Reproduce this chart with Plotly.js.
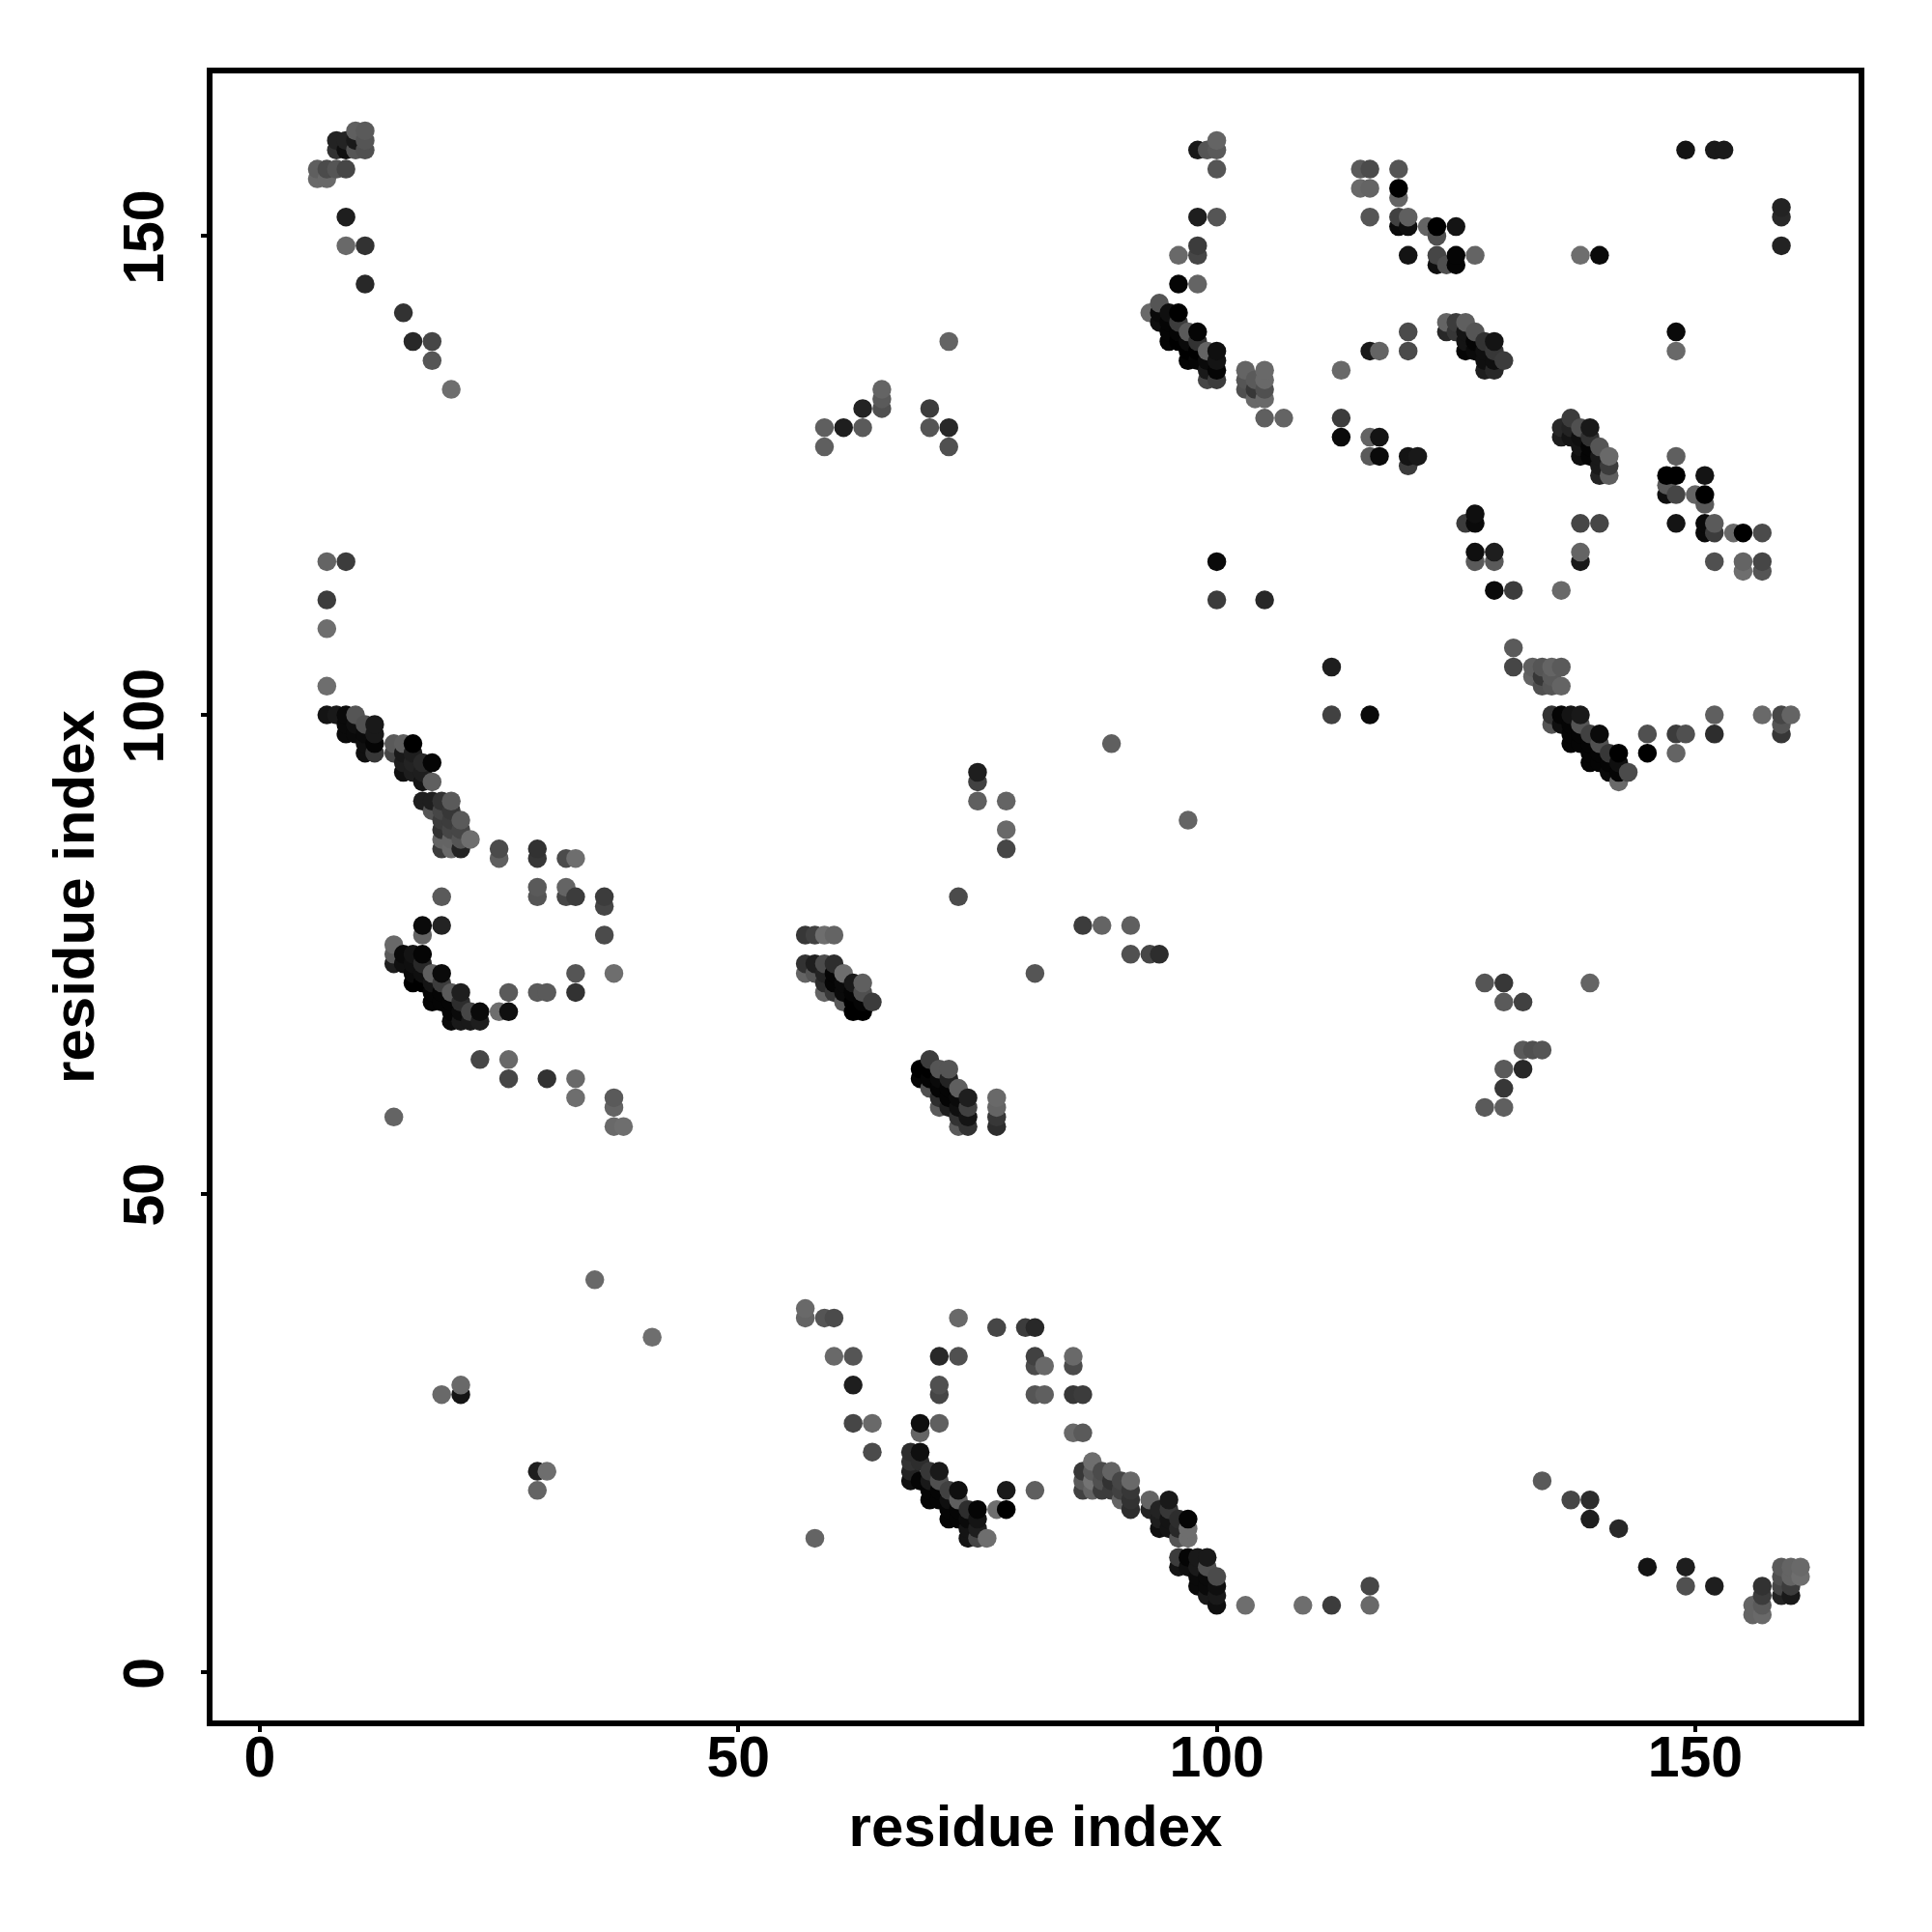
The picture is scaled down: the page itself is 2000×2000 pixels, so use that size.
<!DOCTYPE html>
<html>
<head>
<meta charset="utf-8">
<script src="https://cdn.plot.ly/plotly-3.0.1.min.js"></script>
<style>html,body{margin:0;padding:0;background:#fff}</style>
</head>
<body>
<div id="chart" style="width:2000px;height:2000px"></div>
<script>
const tickValues = [0, 50, 100, 150];
const tickLabels = ["0", "50", "100", "150"];
const axisTitle = "residue index";

const aX=[6,7,6,7,8,9,10,11,11,11,10,10,8,8,9,9,9,9,11,11,15,16,18,18,20];
const aY=[156,156,157,157,157,157,161,161,160,159,160,159,159,160,160,159,152,149,149,145,142,139,139,137,134];
const aG=[105,105,95,75,85,70,95,90,85,80,25,85,50,35,35,15,30,105,50,40,50,40,70,85,110];

const bX=[7,8,9,10,9,10,11,12,9,10,11,12,11,12,11,12];
const bY=[100,100,100,100,99,99,99,99,98,98,98,98,97,97,96,96];
const bG=[20,25,10,85,10,15,80,25,10,10,10,25,15,5,15,55];

const cX=[14,15,16,14,15,16,15,16,17,18,15,16,17,17,18];
const cY=[97,97,97,96,96,96,95,95,95,95,94,94,94,93,93];
const cG=[90,95,0,70,25,30,30,35,40,5,15,30,30,20,95];

const dX=[17,18,19,20,18,19,20,19,20,21,19,20,21,19,20,21,22,19,20,21];
const dY=[91,91,91,91,90,90,90,89,89,89,88,88,88,87,87,87,87,86,86,86];
const dG=[30,30,50,90,85,70,55,60,60,90,50,70,70,100,100,85,110,60,105,35];

const eX=[25,25,29,29,32,33,19,29,29,32,32,33,36,36,36,37,7,7,7,7,9];
const eY=[86,85,86,85,85,85,81,82,81,82,81,81,81,80,77,73,103,109,112,116,116];
const eG=[75,95,50,55,75,110,90,90,85,100,70,60,60,70,75,110,110,110,60,100,60];

const fX=[17,19,17,14,14,14,15,16,17,15,16,17,16,17,18,19,16,17,18,19,18,19,20,21,18,19,20,21,20,21,22,23,20,21,22,23];
const fY=[78,78,77,76,75,74,75,75,75,74,74,74,73,73,73,73,72,72,72,72,71,71,71,71,70,70,70,70,69,69,69,69,68,68,68,68];
const fG=[10,35,100,105,90,30,10,20,5,15,15,40,10,15,95,10,0,0,20,60,5,5,90,30,5,5,5,45,5,10,70,10,10,25,25,30];

const gX=[33,33,26,29,30,25,26,23,26,26,30,33,33,37,37,37,38,14];
const gY=[73,71,71,71,71,69,69,64,64,62,62,62,60,60,59,57,57,58];
const gG=[85,50,90,90,90,110,15,70,105,70,50,105,110,90,100,105,110,100];

const hX=[57,58,59,60,57,58,59,60,57,58,59,60,61,59,60,61,62,63,59,60,61,62,63,61,62,63,64,62,63];
const hY=[77,77,77,77,74,74,74,74,73,73,73,73,73,72,72,72,72,72,71,71,71,71,71,70,70,70,70,69,69];
const hG=[55,65,110,100,50,30,75,45,100,85,35,5,110,45,5,10,25,95,100,55,10,5,80,90,0,5,60,0,0];

const iX=[70,69,70,71,72,69,70,71,72,70,71,72,73,71,72,73,74,71,72,73,74,73,74,73,74,77,77,77,77,81];
const iY=[64,63,63,63,63,62,62,62,62,61,61,61,61,60,60,60,60,59,59,59,59,58,58,57,57,60,59,58,57,73];
const iG=[60,0,0,85,85,5,5,10,35,80,5,5,95,45,5,10,30,90,30,15,65,50,20,90,50,105,100,55,45,85];

const jX=[35,41,19,21,21,29,30,29,57,57,59,60,60,62,62,62,64,64,58];
const jY=[41,35,29,29,30,21,21,19,38,37,37,37,33,33,30,26,26,23,14];
const jG=[105,110,105,20,105,30,110,100,105,100,85,75,105,85,30,70,105,75,100];

const kX=[71,73,73,77,80,81,71,71,81,81,82,81,82,85,85,85,86,81,85,86];
const kY=[33,33,37,36,36,36,30,29,33,32,32,29,29,33,32,29,29,19,25,25];
const kG=[40,80,105,70,60,40,80,70,65,75,105,85,95,105,75,55,60,95,105,90];

const lX=[69,71,69,68,69,68,69,68,70,71,68,69,70,71,70,71,72,73,70,71,72,73,72,73,74,75,72,73,74,75,74,75,74,75,76,78,78,77];
const lY=[26,26,25,23,23,22,22,21,21,21,20,20,20,20,19,19,19,19,18,18,18,18,17,17,17,17,16,16,16,16,15,15,14,14,14,19,17,17];
const lG=[15,95,100,45,15,50,45,35,55,25,15,5,25,80,5,5,65,15,5,5,15,95,5,5,45,5,5,5,10,20,20,30,20,70,110,25,0,110];

const mX=[86,86,86,87,87,87,87,88,88,88,89,89,89,90,90,90,91,91,91,91];
const mY=[21,20,19,22,21,20,19,21,20,19,21,20,19,20,19,18,20,19,18,17];
const mG=[55,90,65,110,90,115,100,75,80,60,100,50,60,70,65,100,105,55,50,45];

const nX=[93,93,95,94,95,94,95,96,97,94,95,96,97,96,97];
const nY=[18,17,18,17,17,16,16,16,16,15,15,15,15,14,14];
const nG=[100,35,25,35,55,30,20,45,5,15,20,40,110,85,110];

const oX=[96,97,98,99,96,97,98,99,98,99,100,98,99,100,99,100,100,103,109,112,116,116];
const oY=[12,12,12,12,11,11,11,11,10,10,10,9,9,9,8,8,7,7,7,7,7,9];
const oG=[60,5,25,25,20,15,25,80,10,10,75,10,10,15,25,25,15,110,110,60,105,70];

const pX=[134,137,139,139,142,145,149,149,152,156,157,156,157,157,157,159,160,159,160,159,160,161,159,160,161];
const pY=[20,18,18,16,15,11,11,9,9,6,6,7,7,8,9,8,8,9,9,10,10,10,11,11,11];
const pG=[90,70,45,30,40,20,30,80,30,100,105,100,90,60,50,35,25,70,60,80,100,110,90,100,105];

const qX=[59,59,61,63,63,65,65,65,70,70,72,72,72,89,97,75,75,75,78,78,78,73,86,88,91,91,93,94];
const qY=[130,128,130,130,132,134,133,132,132,130,130,128,139,97,89,94,93,91,91,88,86,81,78,78,78,75,75,75];
const qG=[95,95,30,90,35,100,90,80,60,85,40,80,100,95,100,30,65,95,100,105,70,75,60,100,95,80,70,45];

const rX=[96,98,94,93,94,95,96,94,95,96,95,96,97,98,95,96,97,98,97,98,99,100,97,98,99,100,99,100,99,100];
const rY=[145,145,143,142,142,142,142,141,141,141,140,140,140,140,139,139,139,139,138,138,138,138,137,137,137,137,136,136,135,135];
const rG=[5,100,85,105,10,15,0,15,5,60,5,5,90,5,5,0,10,50,0,0,100,15,5,5,10,20,25,5,70,60];

const sX=[103,105,103,104,105,103,104,105,104,105,105,107,113,113,116,117,120,120];
const sY=[136,136,135,135,135,134,134,134,133,133,131,131,136,131,138,138,140,138];
const sG=[100,105,85,90,105,80,55,80,105,105,95,100,105,60,25,100,75,75];

const tX=[98,99,100,100,100,98,100,98,98,96,113,116,117,116,117,120,121,120];
const tY=[159,159,160,159,157,152,152,149,148,148,129,129,129,127,127,127,127,126];
const tG=[25,85,100,90,85,30,85,60,70,105,10,100,20,90,10,20,25,60];

const uX=[115,116,115,116,119,119,119,116,119,120,119,120,122,123,125,123,120,123,125,127,123,124,125,138,140];
const uY=[157,157,155,155,157,155,154,152,152,152,151,151,151,151,151,150,148,148,148,148,147,147,147,148,148];
const uG=[90,75,105,100,85,0,100,85,65,95,10,15,100,0,20,80,20,70,5,100,15,80,5,110,10];

const vX=[124,125,126,124,125,126,127,126,127,128,129,126,127,128,129,128,129,130,128,129];
const vY=[141,141,141,140,140,140,140,139,139,139,139,138,138,138,138,137,137,137,136,136];
const vG=[100,60,95,40,55,20,85,20,5,50,20,5,10,15,55,15,15,60,30,40];

const wX=[137,136,137,138,139,136,137,138,139,138,139,140,138,139,140,141,140,141,140,141];
const wY=[131,130,130,130,130,129,129,129,129,128,128,128,127,127,127,127,126,126,125,125];
const wG=[60,40,35,80,25,30,20,15,50,20,5,85,15,5,25,105,25,60,35,95];

const xX=[148,147,148,151,147,147,148,150,151,151,148,151,152,151,152,154,155,157,152,155,157,155,157,138,140,138,138,136];
const xY=[127,125,125,125,124,123,123,123,123,122,120,120,120,119,119,119,119,119,116,116,116,115,115,120,120,117,116,113];
const xG=[95,0,0,20,90,15,70,100,0,90,20,10,90,10,60,105,0,75,80,100,70,110,85,70,70,100,25,105];

const yX=[126,127,127,127,129,127,129,129,131,100,100,105,131,131,112,112,116];
const yY=[120,120,121,117,117,116,116,113,113,116,112,112,107,105,105,100,100];
const yG=[60,10,15,15,30,90,90,10,60,10,60,40,90,70,30,65,10];

const zX=[133,134,135,136,133,134,135,134,135,136];
const zY=[105,105,105,105,104,104,104,103,103,103];
const zG=[95,85,100,90,100,55,90,80,85,100];

const aaX=[135,136,137,138,135,136,137,138,137,138,139,140,137,138,139,140,139,140,141,142,139,140,141,142,141,142,143,142];
const aaY=[100,100,100,100,99,99,99,99,98,98,98,98,97,97,97,97,96,96,96,96,95,95,95,95,94,94,94,93];
const aaG=[50,5,20,25,85,15,5,85,5,5,65,10,5,5,5,80,5,5,55,0,5,5,5,15,10,5,75,105];

const abX=[145,145,148,149,148,152,152,157,159,160,159,159,148,148,149,152,153,159,159,159];
const abY=[98,96,98,98,96,100,98,100,100,100,99,98,140,138,159,159,159,153,152,149];
const abG=[80,0,60,80,100,95,45,105,70,100,85,55,10,105,20,25,25,35,40,35];

const acX=[128,130,130,132,139,132,133,134,130,132,130,128,130];
const acY=[72,72,70,70,72,65,65,65,63,63,61,59,59];
const acG=[85,55,90,65,100,90,80,85,90,40,55,90,95];

const allX=[].concat(aX,bX,cX,dX,eX,fX,gX,hX,iX,jX,kX,lX,mX,nX,oX,pX,qX,rX,sX,tX,uX,vX,wX,xX,yX,zX,aaX,abX,acX);
const allY=[].concat(aY,bY,cY,dY,eY,fY,gY,hY,iY,jY,kY,lY,mY,nY,oY,pY,qY,rY,sY,tY,uY,vY,wY,xY,yY,zY,aaY,abY,acY);
const allG=[].concat(aG,bG,cG,dG,eG,fG,gG,hG,iG,jG,kG,lG,mG,nG,oG,pG,qG,rG,sG,tG,uG,vG,wG,xG,yG,zG,aaG,abG,acG);

// the reference paints points column by column, bottom to top
const order=allX.map((_,i)=>i).sort((p,q)=>allX[p]-allX[q]||allY[p]-allY[q]);

const fontFamily='"Liberation Sans", Arial, sans-serif';
const tickFont={family:fontFamily,size:59,color:'#000',weight:700};
const titleFont={family:fontFamily,size:60,color:'#000',weight:700};

const axisCommon={
  showgrid:false,zeroline:false,showline:true,mirror:true,linecolor:'#000',linewidth:6,
  ticks:'outside',ticklen:6,tickwidth:4,tickcolor:'#000',
  tickmode:'array',tickvals:tickValues,ticktext:tickLabels,tickfont:tickFont
};

Plotly.newPlot('chart',[{
  type:'scatter',mode:'markers',
  x:order.map(i=>allX[i]),
  y:order.map(i=>allY[i]),
  marker:{size:19.5,color:order.map(i=>`rgb(${allG[i]},${allG[i]},${allG[i]})`),line:{width:0}},
  hoverinfo:'x+y'
}],{
  width:2000,height:2000,autosize:false,showlegend:false,
  paper_bgcolor:'#fff',plot_bgcolor:'#fff',
  margin:{l:220,r:76,t:76,b:219,pad:0},
  xaxis:Object.assign({},axisCommon,{range:[-4.946,167.07],ticklabelstandoff:-25,
    title:{text:'<b>'+axisTitle+'</b>',font:titleFont,standoff:20}}),
  yaxis:Object.assign({},axisCommon,{range:[-5.03,167.0],tickangle:-90,ticklabelstandoff:15,ticklabelshift:10,
    title:{text:'<b>'+axisTitle+'</b>',font:titleFont,standoff:1}})
},{displayModeBar:false,staticPlot:true});
</script>
</body>
</html>
